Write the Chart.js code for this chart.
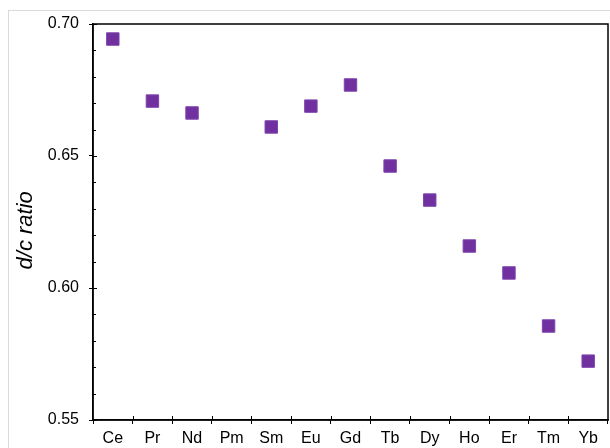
<!DOCTYPE html>
<html>
<head>
<meta charset="utf-8">
<script src="https://cdn.jsdelivr.net/npm/chart.js@4/dist/chart.umd.min.js"></script>
<style>
  html, body { margin: 0; padding: 0; background: #fff; }
  #wrap { position: relative; width: 610px; height: 448px; }
  #frame { position: absolute; left: 8px; top: 10px; width: 700px; height: 500px;
           border-left: 1px solid #d9d9d9; border-top: 1px solid #d9d9d9; }
  canvas { position: absolute; left: 0; top: 0; }
</style>
</head>
<body>
<div id="wrap">
  <div id="frame"></div>
  <canvas id="chart" width="610" height="448"></canvas>
</div>
<script>
// rare earth elements, d/c ratio (Pm has no value)
const elements = ['Ce','Pr','Nd','Pm','Sm','Eu','Gd','Tb','Dy','Ho','Er','Tm','Yb'];
const ratios = [0.6943, 0.6708, 0.6663, null, 0.6610, 0.6689, 0.6769, 0.6462, 0.6333, 0.6159, 0.6057, 0.5856, 0.5723];
const yMin = 0.55;
const yMax = 0.70;
const yMinorStep = 0.01;
const yLabelStep = 0.05;

const isMajor = v => Math.abs(v / yLabelStep - Math.round(v / yLabelStep)) < 1e-6;

// box around plot + ticks pointing into the plot
const frameTicks = {
  id: 'frameTicks',
  afterDraw(chart) {
    const c = chart.ctx, a = chart.chartArea;
    const xs = chart.scales.x, ys = chart.scales.y;
    c.save();
    c.strokeStyle = '#000';
    c.lineWidth = 1.5;
    c.strokeRect(a.left, a.top, a.right - a.left, a.bottom - a.top);
    c.lineWidth = 1;
    c.beginPath();
    ys.ticks.forEach(t => {
      const py = Math.round(ys.getPixelForValue(t.value)) + 0.5;
      const len = isMajor(t.value) ? 4 : 3;
      c.moveTo(a.left, py); c.lineTo(a.left + len, py);
    });
    for (let i = 1; i < elements.length; i++) {
      const px = Math.round((xs.getPixelForValue(i - 1) + xs.getPixelForValue(i)) / 2) + 0.5;
      c.moveTo(px, a.bottom); c.lineTo(px, a.bottom - 4);
    }
    c.stroke();
    c.restore();
  }
};

try {
  const ctx = document.getElementById('chart').getContext('2d');
  const myChart = new Chart(ctx, {
    type: 'line',
    data: {
      labels: elements,
      datasets: [{
        label: 'd/c ratio',
        data: ratios,
        showLine: false,
        pointStyle: 'rect',
        pointRadius: 8.8,
        pointHoverRadius: 8.8,
        pointBackgroundColor: '#7030a0',
        pointBorderColor: '#7f45ad',
        pointBorderWidth: 1
      }]
    },
    options: {
      responsive: false,
      animation: false,
      events: [],
      layout: { autoPadding: false, padding: { top: 24, right: 2, left: 0, bottom: 0 } },
      plugins: { legend: { display: false }, tooltip: { enabled: false } },
      scales: {
        x: {
          offset: true,
          grid: { offset: true, drawOnChartArea: false, tickLength: 4, color: '#000' },
          border: { color: '#000', width: 1.5 },
          ticks: { color: '#000', padding: 5, maxRotation: 0, autoSkip: false,
                   font: { family: 'Liberation Sans, Arial', size: 16 } },
          afterFit(s) { s.height = 28; s.paddingLeft = 0; s.paddingRight = 0; }
        },
        y: {
          min: yMin,
          max: yMax,
          grid: {
            drawOnChartArea: false,
            tickLength: 4,
            color: c => (c.tick && isMajor(c.tick.value)) ? '#000' : 'rgba(0,0,0,0)'
          },
          border: { color: '#000', width: 1.5 },
          ticks: {
            stepSize: yMinorStep,
            autoSkip: false,
            color: '#000',
            padding: 10,
            font: { family: 'Liberation Sans, Arial', size: 16 },
            callback: v => isMajor(v) ? v.toFixed(2) : ''
          },
          title: {
            display: true,
            text: 'd/c ratio  \u2009',
            color: '#000',
            padding: { top: 13, bottom: 0 },
            font: { family: 'Liberation Sans, Arial', size: 22, style: 'italic' }
          },
          afterFit(s) { s.width = 93; s.paddingTop = 0; s.paddingBottom = 0; }
        }
      }
    },
    plugins: [frameTicks]
  });
} catch (e) {
  console.log('chart error', e);
}
</script>
</body>
</html>
